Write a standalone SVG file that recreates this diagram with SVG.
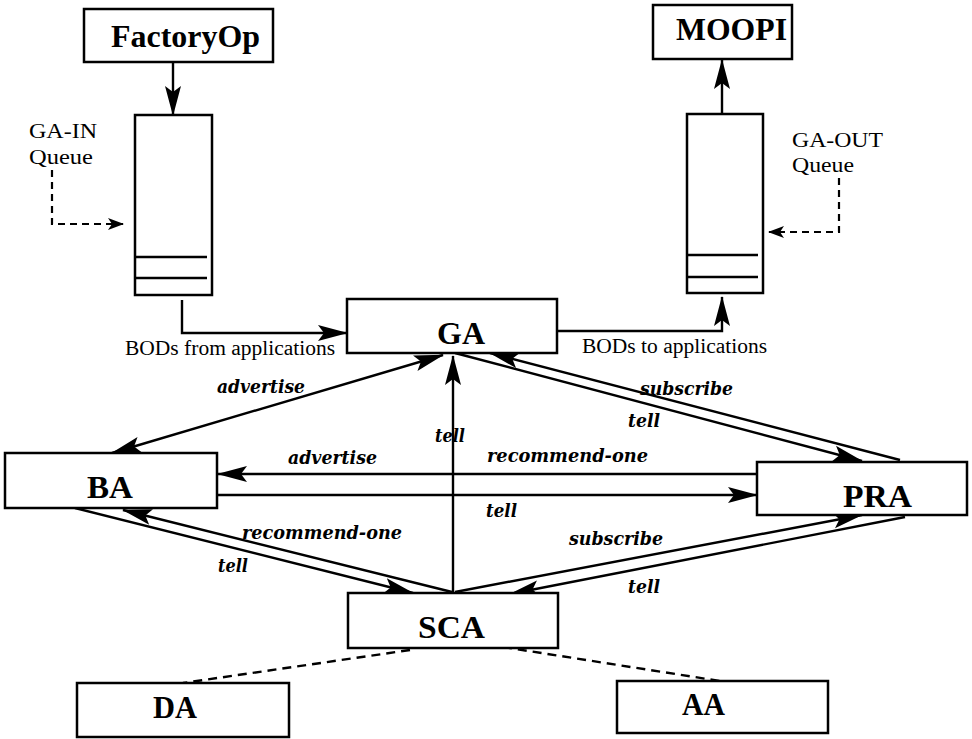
<svg xmlns="http://www.w3.org/2000/svg" width="972" height="739" viewBox="0 0 972 739">
  <style>
    .box { fill: #fff; stroke: #000; stroke-width: 2.5; }
    .node { font-family: "Liberation Serif", "Times New Roman", serif; font-weight: bold; font-size: 31px; fill: #000; }
    .note { font-family: "Liberation Serif", "Times New Roman", serif; font-size: 20px; fill: #000; }
    .msg { font-family: "DejaVu Serif", "Liberation Serif", serif; font-weight: bold; font-style: italic; font-size: 18px; fill: #000; }
    .edge { fill: none; stroke: #000; stroke-width: 2.4; }
    .solid { marker-end: url(#head); }
    .both { marker-start: url(#head); marker-end: url(#head); }
    .dash { fill: none; stroke: #000; stroke-width: 2.2; stroke-dasharray: 7 5; marker-end: url(#smallhead); }
    .link { fill: none; stroke: #000; stroke-width: 2.4; stroke-dasharray: 9 6; }
    .slot { stroke: #000; stroke-width: 2.5; }
  </style>
  <defs>
    <marker id="head" markerUnits="userSpaceOnUse" markerWidth="30" markerHeight="18" refX="29" refY="9" orient="auto-start-reverse">
      <path d="M0,1 L30,9 L0,17 L6,9 z" fill="#000"/>
    </marker>
    <marker id="smallhead" markerUnits="userSpaceOnUse" markerWidth="16" markerHeight="12" refX="15" refY="6" orient="auto">
      <path d="M0,0 L16,6 L0,12 L4,6 z" fill="#000"/>
    </marker>
  </defs>

  <rect width="972" height="739" fill="#fff"/>

  <!-- connectors -->
  <g id="connectors">
    <path class="edge solid" d="M173,62 L173,115"/>
    <path class="edge solid" d="M182,300 L182,333 L347,333"/>
    <path class="edge solid" d="M557,331 L722,331 L722,297"/>
    <path class="edge solid" d="M722,114 L722,60"/>
    <path class="dash" d="M52,170 L52,224 L123,224"/>
    <path class="dash" d="M839,178 L839,232 L769,232"/>
    <!-- GA / BA -->
    <path class="edge both" d="M112,453 L443,355"/>
    <!-- SCA to GA -->
    <path class="edge solid" d="M453,592 L453,356"/>
    <!-- GA / PRA pair -->
    <path class="edge solid" d="M900,460 L490,353"/>
    <path class="edge solid" d="M455,353 L862,461"/>
    <!-- BA / PRA pair -->
    <path class="edge solid" d="M757,474 L218,474"/>
    <path class="edge solid" d="M217,495 L757,495"/>
    <!-- BA / SCA pair -->
    <path class="edge solid" d="M452,592 L123,510"/>
    <path class="edge solid" d="M75,508 L413,593"/>
    <!-- SCA / PRA pair -->
    <path class="edge solid" d="M455,592 L862,515"/>
    <path class="edge solid" d="M905,517 L510,594"/>
    <!-- SCA to DA / AA -->
    <path class="link" d="M410,650 L183,683"/>
    <path class="link" d="M503,647 L720,681"/>
  </g>

  <!-- message labels -->
  <g id="messages">
    <text class="msg" x="217" y="393" textLength="88" lengthAdjust="spacingAndGlyphs">advertise</text>
    <text class="msg" x="435" y="442" textLength="30" lengthAdjust="spacingAndGlyphs">tell</text>
    <text class="msg" x="288" y="464" textLength="89" lengthAdjust="spacingAndGlyphs">advertise</text>
    <text class="msg" x="487" y="462" textLength="161" lengthAdjust="spacingAndGlyphs">recommend-one</text>
    <text class="msg" x="486" y="517" textLength="31" lengthAdjust="spacingAndGlyphs">tell</text>
    <text class="msg" x="242" y="539" textLength="160" lengthAdjust="spacingAndGlyphs">recommend-one</text>
    <text class="msg" x="218" y="572" textLength="30" lengthAdjust="spacingAndGlyphs">tell</text>
    <text class="msg" x="640" y="395" textLength="93" lengthAdjust="spacingAndGlyphs">subscribe</text>
    <text class="msg" x="628" y="427" textLength="32" lengthAdjust="spacingAndGlyphs">tell</text>
    <text class="msg" x="569" y="545" textLength="94" lengthAdjust="spacingAndGlyphs">subscribe</text>
    <text class="msg" x="628" y="593" textLength="32" lengthAdjust="spacingAndGlyphs">tell</text>
    <text class="note" x="125" y="355" textLength="210" lengthAdjust="spacingAndGlyphs">BODs from applications</text>
    <text class="note" x="582" y="353" textLength="185" lengthAdjust="spacingAndGlyphs">BODs to applications</text>
  </g>

  <g id="FactoryOp">
    <rect class="box" x="84" y="9" width="189" height="53"/>
    <text class="node" x="111" y="47" textLength="149" lengthAdjust="spacingAndGlyphs">FactoryOp</text>
  </g>

  <g id="MOOPI">
    <rect class="box" x="653" y="5" width="139" height="54"/>
    <text class="node" x="676" y="40" textLength="111" lengthAdjust="spacingAndGlyphs">MOOPI</text>
  </g>

  <g id="GA-IN">
    <rect class="box" x="135" y="115" width="77" height="180"/>
    <line class="slot" x1="135" y1="257" x2="207" y2="257"/>
    <line class="slot" x1="135" y1="278" x2="207" y2="278"/>
    <text class="note" x="29" y="138" textLength="68" lengthAdjust="spacingAndGlyphs">GA-IN</text>
    <text class="note" x="29" y="164" textLength="64" lengthAdjust="spacingAndGlyphs">Queue</text>
  </g>

  <g id="GA-OUT">
    <rect class="box" x="687" y="114" width="76" height="179"/>
    <line class="slot" x1="687" y1="255" x2="758" y2="255"/>
    <line class="slot" x1="687" y1="277" x2="758" y2="277"/>
    <text class="note" x="792" y="147" textLength="91" lengthAdjust="spacingAndGlyphs">GA-OUT</text>
    <text class="note" x="792" y="172" textLength="62" lengthAdjust="spacingAndGlyphs">Queue</text>
  </g>

  <g id="GA">
    <rect class="box" x="347" y="299" width="210" height="54"/>
    <text class="node" x="437" y="344" textLength="48" lengthAdjust="spacingAndGlyphs">GA</text>
  </g>

  <g id="BA">
    <rect class="box" x="5" y="453" width="212" height="55"/>
    <text class="node" x="87" y="498" textLength="46" lengthAdjust="spacingAndGlyphs">BA</text>
  </g>

  <g id="PRA">
    <rect class="box" x="757" y="462" width="210" height="53"/>
    <text class="node" x="843" y="507" textLength="69" lengthAdjust="spacingAndGlyphs">PRA</text>
  </g>

  <g id="SCA">
    <rect class="box" x="348" y="593" width="210" height="55"/>
    <text class="node" x="418" y="638" textLength="67" lengthAdjust="spacingAndGlyphs">SCA</text>
  </g>

  <g id="DA">
    <rect class="box" x="77" y="683" width="212" height="54"/>
    <text class="node" x="153" y="718" textLength="44" lengthAdjust="spacingAndGlyphs">DA</text>
  </g>

  <g id="AA">
    <rect class="box" x="617" y="681" width="211" height="52"/>
    <text class="node" x="682" y="715" textLength="43" lengthAdjust="spacingAndGlyphs">AA</text>
  </g>
</svg>
